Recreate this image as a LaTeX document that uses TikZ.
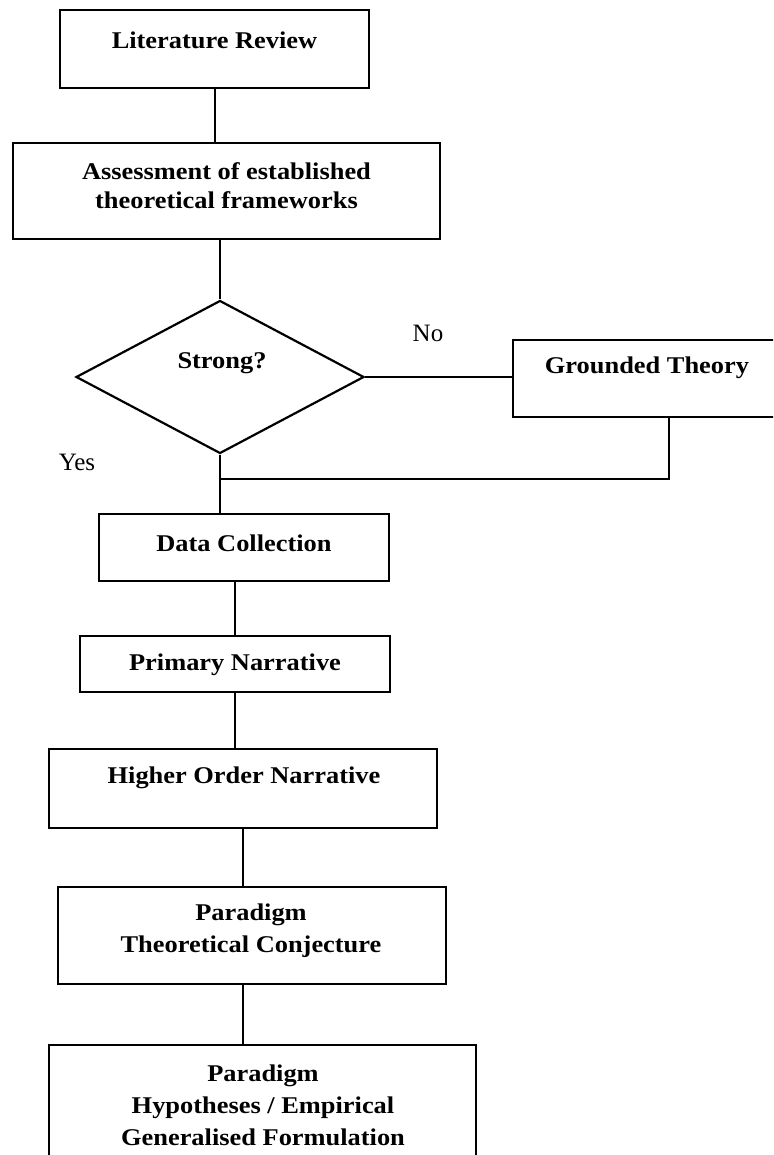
\documentclass[tikz,border=0pt]{standalone}
\usepackage{fontspec}
\setmainfont{Liberation Serif}
\newfontfamily\boxfont{Liberation Serif Bold}[FakeStretch=1.1]
\usetikzlibrary{shapes.geometric}

\begin{document}
\begin{tikzpicture}[x=1pt,y=-1pt,
  box/.style={draw, line width=2.2pt, rectangle, inner sep=0pt},
  title/.style={font=\boxfont\fontsize{24}{32}\selectfont, align=center, inner sep=0pt},
  note/.style={font=\fontsize{25}{30}\selectfont, inner sep=0pt},
  link/.style={line width=2pt}]

\useasboundingbox (0,0) rectangle (773,1155);
\clip (0,0) rectangle (773,1155);

% process boxes
\node[box, minimum width=309pt, minimum height=78pt] (lit) at (214.5,49) {};
\node[title] (litT) at (214.5,40) {Literature Review};

\node[box, minimum width=427pt, minimum height=96pt] (assess) at (226.5,191) {};
\node[title, font=\boxfont\fontsize{24}{29}\selectfont] (assessT) at (226.5,186)
  {Assessment of established\\theoretical frameworks};

% decision
\node[draw, diamond, line width=2.2pt, minimum width=288pt, minimum height=153pt,
      inner sep=0pt] (dia) at (220,377) {};
\node[title] (diaT) at (222,363) {Strong?};

\node[box, minimum width=270pt, minimum height=77pt] (gt) at (648,378.5) {};
\node[title] (gtT) at (647,368) {Grounded Theory};

\node[note] (no) at (428,333) {No};
\node[note] (yes) at (77,462) {Yes};

\node[box, minimum width=290pt, minimum height=67pt] (dc) at (244,547.5) {};
\node[title] (dcT) at (244,543) {Data Collection};

\node[box, minimum width=310pt, minimum height=56pt] (pn) at (235,664) {};
\node[title] (pnT) at (235,665) {Primary Narrative};

\node[box, minimum width=388pt, minimum height=79pt] (hon) at (243,788.5) {};
\node[title] (honT) at (244,778) {Higher Order Narrative};

\node[box, minimum width=388pt, minimum height=97pt] (ptc) at (252,935.5) {};
\node[title] (ptcT) at (251,931) {Paradigm\\Theoretical Conjecture};

\node[box, minimum width=427pt, minimum height=140pt] (fin) at (262.5,1115) {};
\node[title] (finT) at (263,1105) {Paradigm\\Hypotheses / Empirical\\Generalised Formulation};

% connectors
\coordinate (merge) at (220,479);
\draw[link] (lit) -- (lit |- assess.north);
\draw[link] (dia.north |- assess.south) -- (dia.north);
\draw[link] (dia.east) -- (dia.east -| gt.west);
\draw[link] ([xshift=21pt]gt.south) |- (merge);
\draw[link] (dia.south) -- (dia.south |- dc.north);
\draw[link] (dc.south -| pn.north) -- (pn.north);
\draw[link] (pn.south) -- (pn.south |- hon.north);
\draw[link] (hon.south) -- (hon.south |- ptc.north);
\draw[link] (ptc.south -| hon.south) -- (hon.south |- fin.north);
\end{tikzpicture}
\end{document}
